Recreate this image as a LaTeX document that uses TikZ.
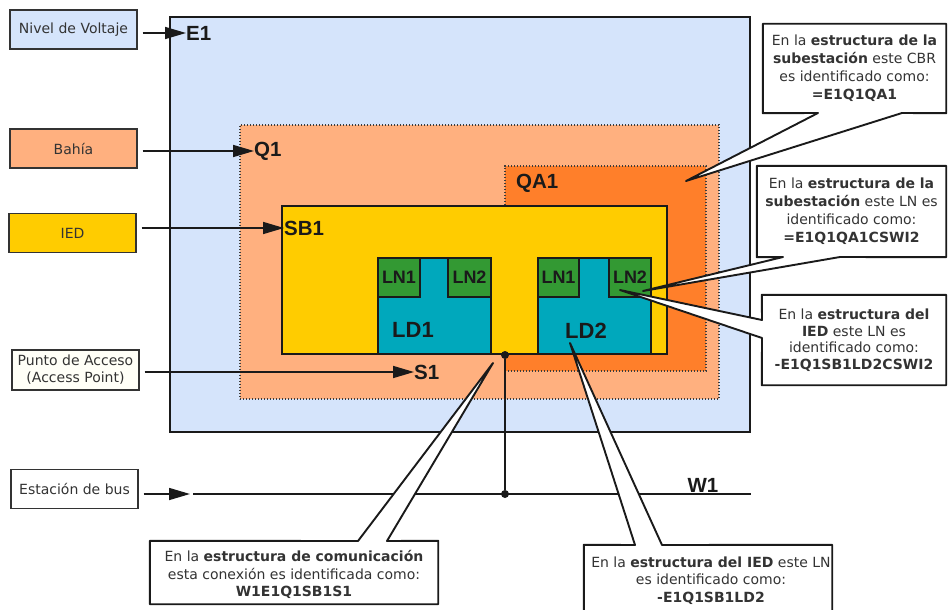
\documentclass[tikz,border=0pt]{standalone}
\usepackage{fontspec}
\setmainfont{DejaVu Sans}
\newfontfamily\lblfont{Liberation Sans}
\usetikzlibrary{arrows.meta}

\definecolor{voltblue}{HTML}{D5E4FB}
\definecolor{bayorange}{HTML}{FFB07F}
\definecolor{cbrorange}{HTML}{FF7F2A}
\definecolor{iedgold}{HTML}{FFCC00}
\definecolor{ldteal}{HTML}{00A8BC}
\definecolor{lngreen}{HTML}{339933}
\definecolor{edge}{HTML}{1A1A1A}
\definecolor{legendtext}{HTML}{333333}

\begin{document}
\begin{tikzpicture}[x=1pt,y=-1pt,
  every node/.style={inner sep=0pt},
  legend/.style={draw=legendtext, line width=1.4pt, minimum width=127pt,
    minimum height=39pt, font=\fontsize{14}{17}\selectfont, text=legendtext, align=center},
  area/.style={draw=edge, line width=1.8pt},
  dottedarea/.style={draw=edge!85, line width=1.3pt, dash pattern=on 1.3pt off 1.7pt},
  tag/.style={font=\lblfont\bfseries\fontsize{20.5}{20.5}\selectfont, text=edge, anchor=west},
  ldbox/.style={draw=edge, line width=1.4pt, fill=ldteal},
  lnbox/.style={draw=edge, line width=1.2pt, fill=lngreen,
    font=\lblfont\bfseries\fontsize{18}{18}\selectfont, text=edge},
  arr/.style={draw=edge, line width=1.6pt, -{Triangle[length=21pt,width=12pt]}, shorten <=5pt},
  calltext/.style={font=\fontsize{14}{18}\selectfont, text=legendtext, align=center},
  callout/.style={draw=edge, line width=1.9pt, fill=white, line join=round},
  dot/.style={circle, fill=edge, minimum size=8pt}
]
\useasboundingbox (0,0) rectangle (948,610);

% nested containers: voltage level, bay, breaker, IED
\node[area, fill=voltblue, minimum width=580pt, minimum height=415pt] (E1box) at (460,224.5) {};
\node[dottedarea, fill=bayorange, minimum width=479pt, minimum height=274pt] (Q1box) at (479.5,262) {};
\node[dottedarea, fill=cbrorange, minimum width=201pt, minimum height=205pt] (QA1box) at (605.5,268.5) {};
\node[draw=edge, line width=1.5pt, fill=iedgold, minimum width=385pt, minimum height=148pt] (SB1box) at (474.5,280) {};

% logical devices and logical nodes
\node[ldbox, minimum width=113pt, minimum height=96pt] (LD1box) at (434.5,306) {};
\node[ldbox, minimum width=113pt, minimum height=96pt] (LD2box) at (594.5,306) {};
\node[lnbox, minimum width=42pt, minimum height=39pt] (LN1a) at (399,277.5) {LN1};
\node[lnbox, minimum width=43pt, minimum height=39pt] (LN2a) at (469.5,277.5) {LN2};
\node[lnbox, minimum width=41pt, minimum height=39pt] (LN1b) at (558.5,277.5) {LN1};
\node[lnbox, minimum width=42pt, minimum height=39pt] (LN2b) at (630,277.5) {LN2};
\node[font=\lblfont\bfseries\fontsize{22}{22}\selectfont, text=edge] (LD1) at (413,330) {LD1};
\node[font=\lblfont\bfseries\fontsize{22}{22}\selectfont, text=edge] (LD2) at (586,331) {LD2};

% designation labels
\node[tag] (E1) at (186,33) {E1};
\node[tag] (Q1) at (254,151) {Q1};
\node[tag] (QA1) at (516,183) {QA1};
\node[tag] (SB1) at (284,228) {SB1};
\node[tag] (S1) at (414,372) {S1};
\node[tag, anchor=center] (W1) at (703,485) {W1};

% legend boxes
\node[legend, fill=voltblue] (nv) at (73.5,29.5) {Nivel de Voltaje};
\node[legend, fill=bayorange] (bahia) at (73.5,148.5) {Bahía};
\node[legend, fill=iedgold] (ied) at (72.5,233) {IED};
\node[legend, fill=white!97!yellow, minimum height=40pt] (pa) at (75.5,370) {Punto de Acceso\\(Access Point)};
\node[legend, fill=white] (est) at (74.5,489) {Estación de bus};

% legend arrows
\draw[arr] (nv.east |- E1.west) -- (E1.west);
\draw[arr] (bahia.east |- Q1.west) -- (Q1.west);
\draw[arr] (ied.east |- SB1.west) -- (SB1.west);
\draw[arr] (pa.east |- S1.west) -- (S1.west);

% station bus and access point connection
\coordinate (busL) at (193,494);
\coordinate (busR) at (751,494);
\draw[draw=edge, line width=2.2pt] (busL) -- (busR);
\draw[arr, shorten >=3pt] (est.east |- busL) -- (busL);
\node[dot] (apdot) at (505,355) {};
\node[dot] (busdot) at (505,494) {};
\draw[draw=edge, line width=1.5pt] (apdot) -- (busdot);

% callout: breaker
\node[calltext, minimum width=183pt, minimum height=89pt] (c1) at (854.5,68.5) {};
\coordinate (t1) at (686,181);
\coordinate (c1a) at (818,113);
\coordinate (c1b) at (902,113);
\draw[callout] (c1.north west) -- (c1.north east) -- (c1.south east) -- (c1b) -- (t1) -- (c1a) -- (c1.south west) -- cycle;
\node[calltext] at (c1) {En la \textbf{estructura de la}\\\textbf{subestación} este CBR\\es identificado como:\\\textbf{=E1Q1QA1}};

% callout: LN in substation structure
\node[calltext, minimum width=189pt, minimum height=91pt] (c2) at (851.5,211.5) {};
\coordinate (t2) at (643,291);
\coordinate (c2a) at (783,257);
\coordinate (c2b) at (840,257);
\draw[callout] (c2.north west) -- (c2.north east) -- (c2.south east) -- (c2b) -- (t2) -- (c2a) -- (c2.south west) -- cycle;
\node[calltext] at (c2) {En la \textbf{estructura de la}\\\textbf{subestación} este LN es\\identificado como:\\\textbf{=E1Q1QA1CSWI2}};

% callout: LN in IED structure
\node[calltext, minimum width=184pt, minimum height=90pt] (c3) at (854,340) {};
\coordinate (t3) at (620,290);
\coordinate (c3a) at (762,320);
\coordinate (c3b) at (762,338);
\draw[callout] (c3.north west) -- (c3.north east) -- (c3.south east) -- (c3.south west) -- (c3b) -- (t3) -- (c3a) -- cycle;
\node[calltext, font=\fontsize{14}{16.5}\selectfont] at (c3) {En la \textbf{estructura del}\\\textbf{IED} este LN es\\identificado como:\\\textbf{-E1Q1SB1LD2CSWI2}};

% callout: communication structure
\node[calltext, minimum width=288pt, minimum height=63pt] (c4) at (294,572.5) {};
\coordinate (t4) at (493,363);
\coordinate (c4a) at (358,541);
\coordinate (c4b) at (387,541);
\draw[callout] (c4.north west) -- (c4a) -- (t4) -- (c4b) -- (c4.north east) -- (c4.south east) -- (c4.south west) -- cycle;
\node[calltext, font=\fontsize{14}{17.5}\selectfont] at (294,574.5) {En la \textbf{estructura de comunicación}\\esta conexión es identificada como:\\\textbf{W1E1Q1SB1S1}};

% callout: LD in IED structure
\node[calltext, minimum width=248pt, minimum height=69pt] (c5) at (708,579.5) {};
\coordinate (t5) at (570,343);
\coordinate (c5a) at (635,545);
\coordinate (c5b) at (662,545);
\draw[callout] (c5.south west) -- (c5.north west) -- (c5a) -- (t5) -- (c5b) -- (c5.north east) -- (c5.south east);
\node[calltext, font=\fontsize{14}{17.5}\selectfont] at (711,580.5) {En la \textbf{estructura del IED} este LN\\es identificado como:\\\textbf{-E1Q1SB1LD2}};

\end{tikzpicture}
\end{document}
